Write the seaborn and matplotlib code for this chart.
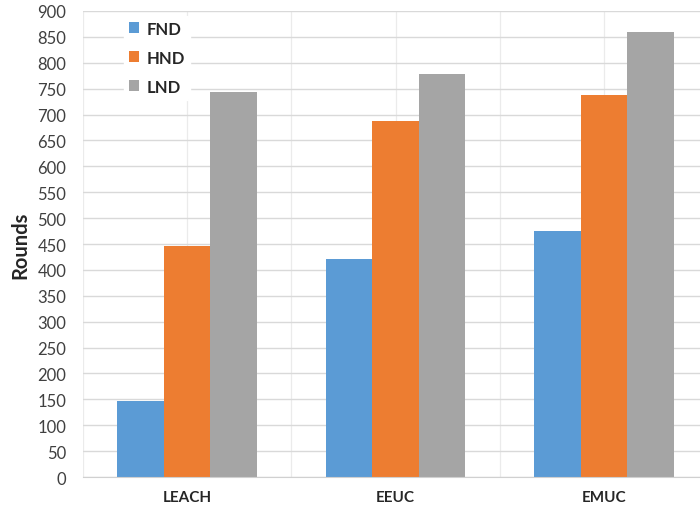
import matplotlib
matplotlib.use("Agg")
import matplotlib.pyplot as plt
import numpy as np
import pandas as pd
import seaborn as sns

methods = ["LEACH", "EEUC", "EMUC"]
metrics = ["FND", "HND", "LND"]
fnd = [147, 421, 476]
hnd = [447, 687, 737]
lnd = [743, 779, 859]
colors = ["#5B9BD5", "#ED7D31", "#A5A5A5"]

df = pd.DataFrame({
    "method": methods * 3,
    "metric": np.repeat(metrics, 3),
    "rounds": fnd + hnd + lnd,
})

sns.set_style("white")
plt.rcParams["font.family"] = ["Lato", "DejaVu Sans"]
fig = plt.figure(figsize=(7, 5.06), dpi=100)
ax = fig.add_axes([0.1186, 0.0553, 0.8928, 0.9210])

sns.barplot(data=df, x="method", y="rounds", hue="metric", order=methods,
            hue_order=metrics, palette=colors, width=0.67, saturation=1,
            gap=0, errorbar=None, linewidth=0, ax=ax)

ax.set_xlim(-0.5, 2.5)
ax.set_ylim(0, 900)
ax.set_yticks(np.arange(0, 901, 50))
ax.set_axisbelow(True)
ax.grid(axis="y", color="#D9D9D9", linewidth=1)
ax.set_xticks([-0.5, 0.5, 1.5, 2.5], minor=True)
ax.grid(axis="x", which="both", color="#EBEBEB", linewidth=0.9)
ax.tick_params(axis="x", which="both", length=0, pad=9)
ax.tick_params(axis="y", length=0, pad=12, labelsize=12, labelcolor="#404040")
for lab in ax.get_xticklabels():
    lab.set_fontweight("bold")
    lab.set_fontsize(11)
    lab.set_color("#262626")

for s in ["top", "right", "left"]:
    ax.spines[s].set_visible(False)
ax.spines["bottom"].set_color("#D0D0D0")

ax.set_xlabel("")
ax.set_ylabel("Rounds", fontsize=14.5, fontweight="bold", labelpad=5)

leg = ax.legend(loc="upper left", bbox_to_anchor=(0.053, 1.008), frameon=True,
                facecolor="white", edgecolor="white", framealpha=1,
                handlelength=0.6, handleheight=0.6, handletextpad=0.4,
                labelspacing=0.78, fontsize=12, borderpad=0.3)
for t in leg.get_texts():
    t.set_fontweight("bold")
    t.set_color("#262626")

fig.savefig("out.png", dpi=100)
